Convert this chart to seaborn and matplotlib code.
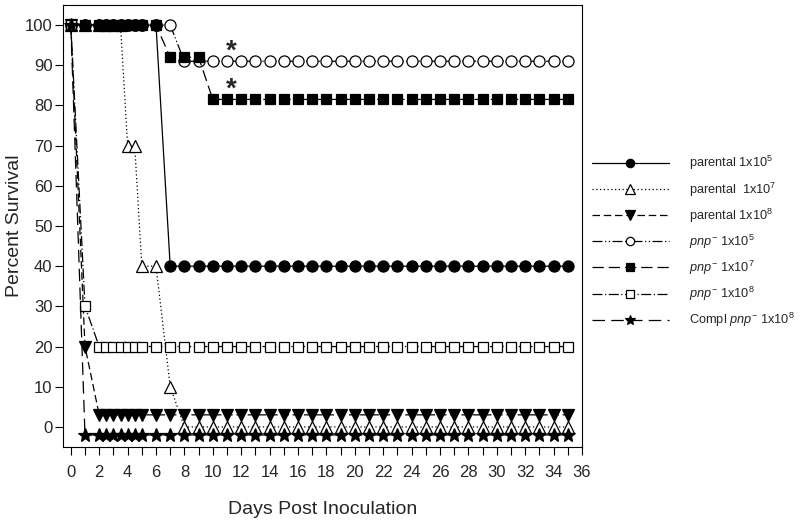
import matplotlib
matplotlib.use('Agg')
import matplotlib.pyplot as plt
import seaborn as sns

# ---- data; rows of 13 values aligned with days ----
days = [0, 1, 2, 2.5, 3, 3.5, 4, 4.5, 5, 6, 7, 8, 9,
        10, 11, 12, 13, 14, 15, 16, 17, 18, 19, 20, 21, 22,
        23, 24, 25, 26, 27, 28, 29, 30, 31, 32, 33, 34, 35]

parental_1e5 = [100, 100, 100, 100, 100, 100, 100, 100, 100, 100, 40, 40, 40,
                40, 40, 40, 40, 40, 40, 40, 40, 40, 40, 40, 40, 40,
                40, 40, 40, 40, 40, 40, 40, 40, 40, 40, 40, 40, 40]
parental_1e7 = [100, 100, 100, 100, 100, 100, 70, 70, 40, 40, 10, 0, 0,
                0, 0, 0, 0, 0, 0, 0, 0, 0, 0, 0, 0, 0,
                0, 0, 0, 0, 0, 0, 0, 0, 0, 0, 0, 0, 0]
parental_1e8 = [100, 20, 3, 3, 3, 3, 3, 3, 3, 3, 3, 3, 3,
                3, 3, 3, 3, 3, 3, 3, 3, 3, 3, 3, 3, 3,
                3, 3, 3, 3, 3, 3, 3, 3, 3, 3, 3, 3, 3]
pnp_1e5 = [100, 100, 100, 100, 100, 100, 100, 100, 100, 100, 100, 91, 91,
           91, 91, 91, 91, 91, 91, 91, 91, 91, 91, 91, 91, 91,
           91, 91, 91, 91, 91, 91, 91, 91, 91, 91, 91, 91, 91]
pnp_1e7 = [100, 100, 100, 100, 100, 100, 100, 100, 100, 100, 92, 92, 92,
           81.5, 81.5, 81.5, 81.5, 81.5, 81.5, 81.5, 81.5, 81.5, 81.5, 81.5, 81.5, 81.5,
           81.5, 81.5, 81.5, 81.5, 81.5, 81.5, 81.5, 81.5, 81.5, 81.5, 81.5, 81.5, 81.5]
pnp_1e8 = [100, 30, 20, 20, 20, 20, 20, 20, 20, 20, 20, 20, 20,
           20, 20, 20, 20, 20, 20, 20, 20, 20, 20, 20, 20, 20,
           20, 20, 20, 20, 20, 20, 20, 20, 20, 20, 20, 20, 20]
compl_1e8 = [100, -2, -2, -2, -2, -2, -2, -2, -2, -2, -2, -2, -2,
             -2, -2, -2, -2, -2, -2, -2, -2, -2, -2, -2, -2, -2,
             -2, -2, -2, -2, -2, -2, -2, -2, -2, -2, -2, -2, -2]

labels = ['parental 1x10$^{5}$', 'parental  1x10$^{7}$', 'parental 1x10$^{8}$',
          '$\\mathit{pnp}^{-}$ 1x10$^{5}$', '$\\mathit{pnp}^{-}$ 1x10$^{7}$',
          '$\\mathit{pnp}^{-}$ 1x10$^{8}$', 'Compl $\\mathit{pnp}^{-}$ 1x10$^{8}$']
series = [parental_1e5, parental_1e7, parental_1e8, pnp_1e5, pnp_1e7, pnp_1e8, compl_1e8]

star_x = [11.3, 11.3]
star_y = [93.5, 84.0]

# ---- styles ----
styles = [
    dict(marker='o', mfc='black', ls='-', ms=8),
    dict(marker='^', mfc='white', ls=(0, (1, 2)), ms=9),
    dict(marker='v', mfc='black', ls=(0, (6, 3)), ms=9),
    dict(marker='o', mfc='white', ls=(0, (8, 2, 1, 2, 1, 2)), ms=8),
    dict(marker='s', mfc='black', ls=(0, (9, 4)), ms=7.5),
    dict(marker='s', mfc='white', ls=(0, (8, 2, 1, 2)), ms=7.5),
    dict(marker='*', mfc='black', ls=(0, (10, 5)), ms=10),
]

sns.set_style('ticks')
plt.rcParams['font.family'] = ['Liberation Sans', 'DejaVu Sans']
plt.rcParams['mathtext.fontset'] = 'custom'
plt.rcParams['mathtext.rm'] = 'Liberation Sans'
plt.rcParams['mathtext.it'] = 'Liberation Sans:italic'
plt.rcParams['mathtext.default'] = 'regular'

fig = plt.figure(figsize=(8, 5.26), dpi=100)
ax = fig.add_axes([63 / 800, 1 - 447 / 526, (582 - 63) / 800, (447 - 5) / 526])

for lab, vals, st in zip(labels, series, styles):
    sns.lineplot(x=days, y=vals, ax=ax, color='black', lw=0.9,
                 linestyle=st['ls'], marker=st['marker'], markersize=st['ms'],
                 markerfacecolor=st['mfc'], markeredgecolor='black',
                 markeredgewidth=0.9, label=lab)

for sx, sy in zip(star_x, star_y):
    ax.text(sx, sy, '*', ha='center', va='center', fontsize=20, fontweight='bold')

ax.set_xlim(-0.55, 36)
ax.set_ylim(-5, 105)
ax.set_xticks(range(0, 37, 2))
ax.set_xticks(range(0, 37, 1), minor=True)
ax.set_yticks(range(0, 101, 10))
ax.tick_params(axis='both', which='both', length=6, width=0.8, labelsize=12, direction='out',
               color='black')
ax.tick_params(axis='x', which='both', pad=7)
ax.tick_params(axis='y', which='both', pad=1.5)
for sp in ax.spines.values():
    sp.set_visible(True)
    sp.set_color('black')
    sp.set_linewidth(0.8)

ax.set_xlabel('Days Post Inoculation', fontsize=14, labelpad=15)
ax.set_ylabel('Percent Survival', fontsize=14, labelpad=1)

leg_size = 9.2
leg = ax.legend(loc='upper left', bbox_to_anchor=(1.0085, 0.674), frameon=False,
                borderaxespad=0, prop={'family': 'Liberation Sans', 'size': leg_size},
                handlelength=5.6 * 10 / leg_size, handletextpad=1.45 * 10 / leg_size,
                labelspacing=0.62, markerscale=0.75)

fig.savefig('out.png', dpi=100)
